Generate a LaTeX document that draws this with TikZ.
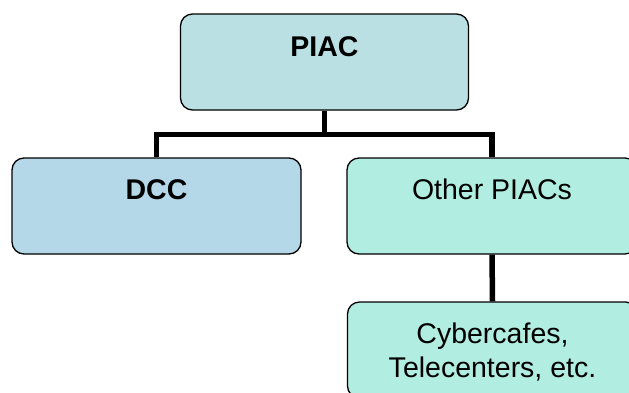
\documentclass[tikz,border=0pt]{standalone}
\usepackage{fontspec}
\setmainfont{Liberation Sans}
\definecolor{piacfill}{RGB}{187,224,227}
\definecolor{dccfill}{RGB}{181,216,232}
\definecolor{otherfill}{RGB}{177,237,224}
\begin{document}
\begin{tikzpicture}[x=1pt,y=-1pt,
  box/.style={draw=black, line width=1.3pt, rounded corners=12pt, rectangle,
    minimum width=289pt, minimum height=96pt, inner sep=0pt},
  txt/.style={font=\fontsize{28.5}{34.5}\selectfont, align=center, anchor=center, inner sep=0pt},
  conn/.style={draw=black, line width=5.5pt, line join=miter}]
\useasboundingbox (0,0) rectangle (629,392);
\fill[white] (0,0) rectangle (629,392);
\clip (0,0) rectangle (629,392);
\node[box, fill=piacfill, minimum width=288pt] (piac) at (324.5,62) {};
\node[box, fill=dccfill] (dcc) at (156.5,206) {};
\node[box, fill=otherfill, minimum width=290pt] (other) at (492,206) {};
\node[box, fill=otherfill, minimum width=290pt] (cyber) at (492.5,350) {};
\draw[conn] (piac.south) -- ++(0,24) -| (dcc.north);
\draw[conn] (piac.south) -- ++(0,24) -| (other.north);
\draw[conn] (other.south) -- (cyber.north);
\node[txt] (tpiac) at ([yshift=-33pt]piac.north) {\textbf{PIAC}};
\node[txt] (tdcc) at ([yshift=-32pt]dcc.north) {\textbf{DCC}};
\node[txt] (tother) at ([yshift=-32pt]other.north) {Other PIACs};
\node[txt] (tcyber) at ([yshift=-50.5pt]cyber.north) {Cybercafes,\\Telecenters, etc.};
\end{tikzpicture}
\end{document}
